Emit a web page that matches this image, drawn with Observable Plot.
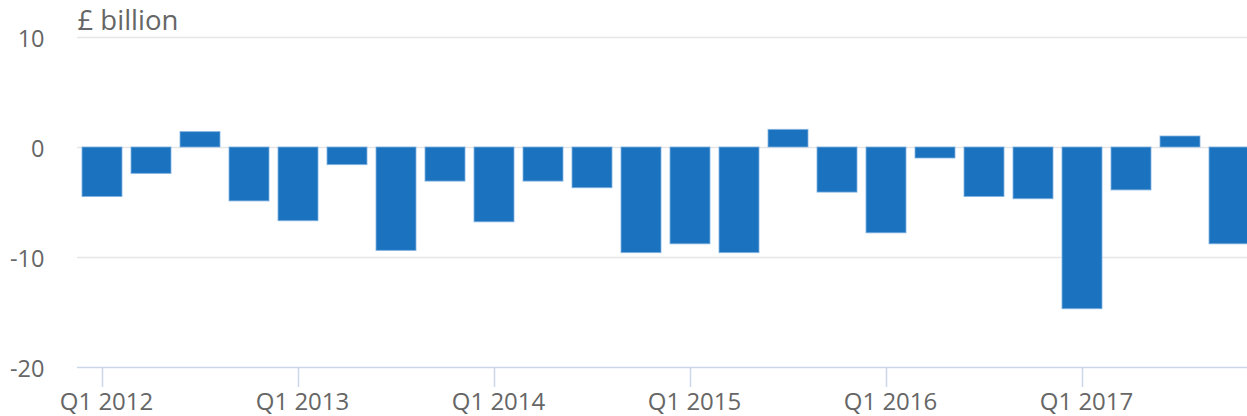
<!DOCTYPE html>
<html><head><meta charset="utf-8">
<script src="https://cdn.jsdelivr.net/npm/d3@7"></script>
<script src="https://cdn.jsdelivr.net/npm/@observablehq/plot@0.6"></script>
<style>body{margin:0;background:#fff;} #chart svg{display:block;}</style>
</head><body><div id="chart"></div>
<script>
const quarters = [
  "Q1 2012","Q2 2012","Q3 2012","Q4 2012",
  "Q1 2013","Q2 2013","Q3 2013","Q4 2013",
  "Q1 2014","Q2 2014","Q3 2014","Q4 2014",
  "Q1 2015","Q2 2015","Q3 2015","Q4 2015",
  "Q1 2016","Q2 2016","Q3 2016","Q4 2016",
  "Q1 2017","Q2 2017","Q3 2017","Q4 2017"
];
const balance = [
  -4.5, -2.4, 1.4, -4.9,
  -6.7, -1.6, -9.4, -3.1,
  -6.8, -3.1, -3.7, -9.6,
  -8.8, -9.6, 1.6, -4.1,
  -7.8, -1.0, -4.5, -4.7,
  -14.7, -3.9, 1.0, -8.8
];
const yTicks = [-20, -10, 0, 10];
const xTicks = ["Q1 2012","Q1 2013","Q1 2014","Q1 2015","Q1 2016","Q1 2017"];
const unitLabel = ["£ billion"];

const data = quarters.map((q, i) => ({quarter: q, value: balance[i]}));

const plot = Plot.plot({
  width: 1247, height: 416,
  marginTop: 37, marginBottom: 49, marginLeft: 77, marginRight: 0,
  style: {fontFamily: "'Open Sans', sans-serif", fontSize: "22px", color: "#666", background: "#fff"},
  x: {type: "band", domain: quarters, range: [76.7, 1253.5], paddingInner: 0.19, paddingOuter: 0.095, axis: null},
  y: {domain: [-20, 10], axis: null},
  marks: [
    Plot.ruleY(yTicks.filter(d => d > -20), {stroke: "#e6e6e6", strokeWidth: 1.5}),
    Plot.ruleY([-20], {stroke: "#ccd6eb", strokeWidth: 1.5}),
    Plot.barY(data, {x: "quarter", y: "value", fill: "#1b73c0", stroke: "#7fb0e0", strokeWidth: 1, strokeOpacity: 0.8}),
    Plot.axisY(yTicks, {label: null, tickFormat: d => String(d), tickSize: 0, tickPadding: 33, fontSize: 23.5, dy: 2, fill: "#666", stroke: "none"}),
    Plot.axisX(xTicks, {label: null, tickSize: 20, tickFormat: () => "", stroke: "#ccd6eb", strokeWidth: 1.5}),
    Plot.axisX(xTicks, {label: null, tickSize: 0, tickPadding: 25, fontSize: 24, stroke: "none", fill: "#666", dx: 4}),
    Plot.text(unitLabel, {frameAnchor: "top-left", text: d => d, textAnchor: "start", lineAnchor: "bottom", dy: -8, fontSize: 27.5, fill: "#666"})
  ]
});
document.getElementById("chart").appendChild(plot);
</script>
</body></html>
